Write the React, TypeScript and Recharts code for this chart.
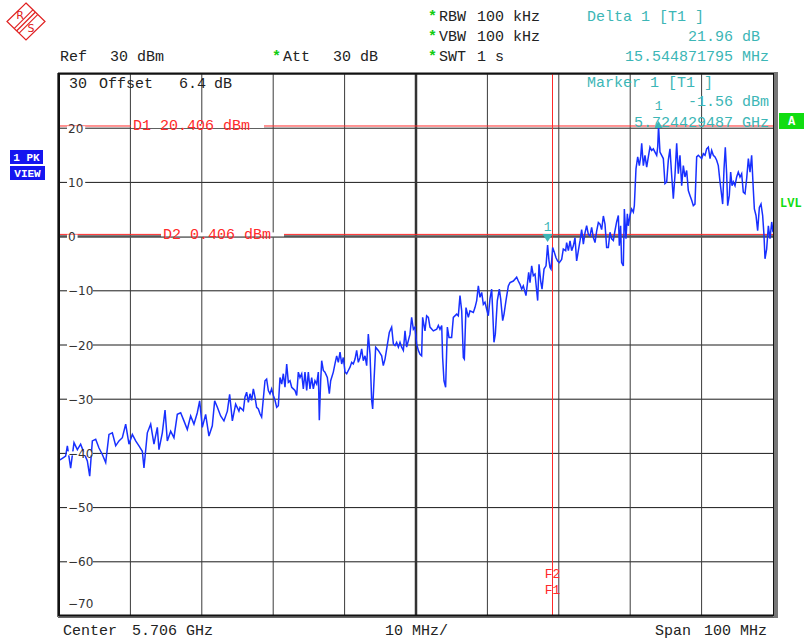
import {
  LineChart,
  Line,
  XAxis,
  YAxis,
  CartesianGrid,
  ReferenceLine,
  ReferenceDot,
} from "recharts";

// sweep trace: [offset from start MHz, level dBm]
const trace: [number, number][] = [
  [0, -41.3], [0.47, -40.9], [0.93, -40.5], [1.17, -38.6], [1.63, -42.7], [2.1, -38.0], [2.57, -39.3], [3.03, -38.3],
  [3.5, -39.9], [3.97, -41.4], [4.3, -44.2], [4.67, -37.7], [5.14, -37.4], [5.6, -39.0], [6.07, -40.2], [6.54, -41.7],
  [7.0, -36.5], [7.47, -36.2], [7.94, -38.6], [8.4, -37.7], [8.87, -37.1], [9.34, -34.6], [9.8, -38.3], [10.27, -36.5],
  [10.74, -37.7], [11.2, -38.6], [11.67, -39.6], [11.9, -42.7], [12.37, -36.2], [12.84, -34.6], [13.3, -38.3],
  [13.77, -35.2], [14.0, -39.3], [14.47, -36.2], [14.85, -32.0], [15.17, -37.7], [15.64, -35.9], [16.1, -37.1],
  [16.57, -32.8], [17.04, -32.5], [17.5, -34.0], [17.97, -35.6], [18.44, -33.1], [18.9, -34.6], [19.37, -32.5],
  [19.7, -30.3], [20.07, -35.2], [20.54, -32.8], [21.0, -36.8], [21.47, -34.9], [21.8, -30.3], [22.18, -31.5],
  [22.64, -33.1], [23.1, -34.0], [23.58, -32.2], [23.9, -29.1], [24.28, -34.0], [24.74, -30.9], [25.2, -32.2],
  [25.35, -31.5], [25.82, -32.1], [26.05, -29.6], [26.28, -28.7], [26.52, -30.6], [26.75, -29.0], [26.98, -30.2],
  [27.22, -28.1], [27.45, -29.6], [27.68, -31.5], [27.92, -31.8], [28.15, -32.7], [28.38, -33.3], [28.85, -26.6],
  [29.08, -26.3], [29.32, -28.4], [29.55, -29.0], [29.78, -28.1], [30.02, -29.3], [30.25, -30.2], [30.49, -31.5],
  [30.72, -31.2], [30.95, -26.0], [31.19, -27.2], [31.42, -25.3], [31.65, -27.8], [31.89, -23.5], [32.12, -26.9],
  [32.35, -26.6], [32.59, -27.8], [32.82, -28.1], [33.05, -28.4], [33.29, -29.3], [33.52, -25.0], [33.75, -26.0],
  [33.99, -25.3], [34.22, -28.1], [34.45, -25.0], [34.69, -28.4], [34.92, -25.0], [35.15, -28.1], [35.39, -26.0],
  [35.62, -28.1], [35.85, -26.6], [36.09, -27.2], [36.32, -25.0], [36.46, -33.9], [36.65, -26.6], [36.79, -22.9],
  [37.02, -24.7], [37.25, -25.0], [37.58, -26.0], [37.86, -29.0], [38.05, -26.6], [38.42, -25.0], [38.65, -23.5],
  [38.89, -22.0], [39.12, -23.2], [39.36, -21.3], [39.59, -23.5], [39.82, -22.3], [40.06, -25.0], [40.29, -25.3],
  [40.52, -24.7], [40.76, -24.1], [40.99, -23.2], [41.22, -23.5], [41.46, -22.6], [41.69, -21.0], [41.92, -23.2],
  [42.16, -22.3], [42.39, -20.7], [42.62, -22.9], [42.86, -22.0], [43.09, -23.8], [43.32, -18.0], [43.56, -21.7],
  [43.79, -30.2], [43.93, -31.8], [44.12, -26.6], [44.35, -20.4], [44.72, -21.0], [45.19, -22.0], [45.42, -23.8],
  [45.66, -22.6], [45.89, -20.7], [46.26, -17.7], [46.59, -16.7], [46.83, -19.8], [47.06, -20.1], [47.29, -19.5],
  [47.53, -20.4], [47.76, -19.5], [47.99, -20.4], [48.23, -21.0], [48.46, -17.4], [48.69, -20.4], [49.16, -18.0],
  [49.39, -14.9], [49.63, -17.1], [49.86, -16.7], [50.09, -19.8], [50.33, -21.0], [50.56, -21.7], [50.79, -22.0],
  [50.93, -14.9], [51.26, -17.4], [51.49, -14.6], [51.73, -14.9], [51.96, -16.7], [52.43, -17.4], [52.9, -17.1],
  [53.13, -16.4], [53.36, -17.1], [53.6, -16.4], [53.73, -22.3], [53.92, -26.6], [54.15, -27.8], [54.39, -16.7],
  [54.62, -18.6], [54.99, -18.6], [55.23, -14.9], [55.7, -14.3], [55.93, -14.6], [56.16, -10.9], [56.4, -13.7],
  [56.63, -22.3], [56.77, -22.6], [57.0, -13.1], [57.33, -14.9], [57.56, -13.7], [58.03, -14.0], [58.26, -13.1],
  [58.5, -11.8], [58.73, -9.1], [58.96, -11.2], [59.2, -10.3], [59.43, -12.5], [59.66, -12.1], [59.9, -13.4],
  [60.13, -14.6], [60.36, -11.5], [60.6, -9.7], [60.74, -13.7], [60.92, -19.5], [61.11, -18.0], [61.39, -11.8],
  [61.67, -9.7], [61.86, -11.5], [62.14, -15.5], [62.33, -14.3], [62.6, -11.8], [62.93, -9.1], [63.17, -8.5],
  [63.63, -8.2], [64.1, -7.5], [64.33, -8.2], [64.57, -8.8], [64.8, -9.7], [65.03, -9.1], [65.4, -10.9],
  [65.59, -8.8], [65.78, -6.6], [65.97, -8.5], [66.2, -5.4], [66.43, -7.2], [66.67, -6.9], [66.9, -10.0],
  [67.04, -11.8], [67.23, -5.1], [67.46, -8.2], [67.65, -9.7], [67.93, -6.0], [68.21, -5.4], [68.43, -1.56],
  [68.63, -4.5], [68.77, -5.7], [68.91, -6.0], [69.14, -2.0], [69.37, -2.9], [69.61, -3.9], [69.84, -4.5],
  [70.07, -4.8], [70.4, -4.2], [70.63, -2.3], [70.96, -2.6], [71.1, -1.1], [71.34, -2.6], [71.57, -0.8],
  [71.8, -2.6], [72.04, -1.7], [72.27, -0.2], [72.5, -4.5], [72.74, -2.6], [72.97, -0.8], [73.2, 1.3],
  [73.44, -1.4], [73.67, 0.7], [73.9, 2.0], [74.14, 0.4], [74.37, 0.1], [74.6, 1.7], [74.84, -0.2],
  [75.07, -1.1], [75.3, 1.0], [75.54, 2.6], [75.77, 2.3], [76.0, 1.3], [76.24, 3.8], [76.47, 2.3],
  [76.7, -2.0], [76.94, -2.0], [77.17, 0.8], [77.4, -0.4], [77.64, -0.7], [77.87, 1.1], [78.1, 2.7],
  [78.34, 3.9], [78.48, -1.7], [78.66, 2.0], [78.8, -4.8], [79.04, -5.4], [79.18, 5.1], [79.41, -0.4],
  [79.6, 4.2], [79.74, 2.0], [79.97, 3.9], [80.2, 5.1], [80.44, 4.5], [80.58, 5.7], [80.81, 12.5],
  [81.05, 14.7], [81.28, 13.1], [81.47, 14.7], [81.61, 17.2], [81.84, 13.1], [82.07, 15.0], [82.31, 12.8],
  [82.54, 14.7], [82.77, 16.5], [83.01, 15.9], [83.24, 16.2], [83.47, 15.6], [83.71, 15.0], [83.85, 16.5],
  [83.97, 20.4], [84.17, 15.6], [84.41, 15.0], [84.64, 14.4], [84.87, 9.8], [85.11, 10.1], [85.34, 14.1],
  [85.57, 16.2], [85.81, 11.3], [86.04, 7.0], [86.27, 11.3], [86.51, 17.2], [86.74, 11.6], [86.97, 15.0],
  [87.21, 9.4], [87.44, 13.1], [87.67, 11.0], [87.91, 12.2], [88.14, 8.5], [88.37, 7.6], [88.61, 6.7],
  [88.84, 5.7], [89.07, 6.0], [89.31, 14.7], [89.54, 15.0], [89.78, 14.7], [90.01, 14.4], [90.24, 15.3],
  [90.48, 15.0], [90.71, 16.2], [90.94, 16.5], [91.18, 14.4], [91.41, 15.9], [91.64, 15.0], [91.88, 14.7],
  [92.11, 14.1], [92.34, 13.1], [92.58, 10.1], [92.81, 7.6], [92.95, 6.0], [93.14, 12.5], [93.32, 16.5],
  [93.51, 11.6], [93.65, 5.7], [93.88, 7.6], [94.07, 11.9], [94.26, 9.4], [94.44, 10.1], [94.68, 9.4],
  [94.91, 11.0], [95.14, 11.9], [95.38, 11.0], [95.61, 11.6], [95.84, 8.2], [96.08, 7.9], [96.31, 10.7],
  [96.55, 14.4], [96.78, 11.9], [97.01, 15.0], [97.25, 8.5], [97.39, 5.1], [97.62, 3.9], [97.85, 1.1],
  [98.09, 5.4], [98.32, 6.0], [98.55, 3.9], [98.74, 0.2], [98.88, -4.1], [99.11, -2.3], [99.35, 2.0],
  [99.58, -0.4], [99.82, 2.7], [100, 0.8],
];

const freqTicks = [0, 10, 20, 30, 40, 50, 60, 70, 80, 90, 100];
const levelTicks = [30, 20, 10, 0, -10, -20, -30, -40, -50, -60, -70];

// display lines and markers
const d1Level = 20.406;
const d2Level = 0.406;
const f1f2 = 69.12;
const marker1 = { f: 68.43, level: -1.56 };
const delta1 = { f: 83.97, level: 20.4 };

const rows = trace.map(([f, level]) => ({ f, level }));

const MONO = "'Liberation Mono', 'DejaVu Sans Mono', monospace";
const TEAL = "#3cb6b6";
const RED = "#ff2a2a";
const GREEN = "#11dd11";
const INK = "#222";
const GRID = "#1a1a1a";

const LevelTick = (props: any) => {
  const { y, payload } = props;
  const v = payload.value;
  if (v === 30) return null;
  const label = v < 0 ? `\u2212${-v}` : `${v}`;
  const ty = v === -70 ? y - 13 : y;
  return (
    <g>
      {v !== -70 && (
        <rect x={67} y={y - 2} width={label.length * 7.6 + 3} height={4} fill="#fff" />
      )}
      <text x={68} y={ty + 4.5} fontSize={12} fill="#333" fontFamily="'DejaVu Sans', sans-serif">
        {label}
      </text>
    </g>
  );
};

const DisplayLineLabel = ({ viewBox, text, from, to }: any) => {
  const { x, y } = viewBox;
  return (
    <g>
      <rect x={x + from - 2} y={y - 2} width={to - from + 4} height={4} fill="#fff" />
      <text x={x + from} y={y + 4.5} fontSize={15} fill={RED} fontFamily={MONO}>
        {text}
      </text>
    </g>
  );
};

const FreqLineLabel = ({ viewBox }: any) => {
  const { x } = viewBox;
  return (
    <g fontFamily={MONO} fontSize={13} fill={RED} textAnchor="middle">
      <text x={x} y={578}>F2</text>
      <text x={x} y={594}>F1</text>
    </g>
  );
};

const MarkerDown = ({ cx, cy }: any) => (
  <g>
    <polygon points={`${cx - 5},${cy - 11} ${cx + 5},${cy - 11} ${cx},${cy - 3}`} fill={TEAL} />
    <text x={cx} y={cy - 14} fontSize={13} fill={TEAL} fontFamily={MONO} textAnchor="middle">1</text>
  </g>
);

const MarkerUp = ({ cx, cy }: any) => (
  <g>
    <polygon points={`${cx - 4},${cy + 2} ${cx + 4},${cy + 2} ${cx},${cy - 5}`} fill={TEAL} />
    <text x={cx} y={cy - 16} fontSize={13} fill={TEAL} fontFamily={MONO} textAnchor="middle">1</text>
  </g>
);

function Logo() {
  const lines = [-2.4, 0, 2.4];
  return (
    <g stroke="#e02020" fill="none" strokeWidth={1.2}>
      <polygon points="26,3 45,21.5 26,40 7,21.5" />
      {lines.map((d) => (
        <line key={d} x1={16.75 + d} y1={30.75 + d} x2={35.25 + d} y2={12.25 + d} />
      ))}
      <text x={20} y={19} stroke="none" fill="#e02020" fontSize={11} fontFamily="'DejaVu Sans', sans-serif" textAnchor="middle">R</text>
      <text x={31} y={32} stroke="none" fill="#e02020" fontSize={11} fontFamily="'DejaVu Sans', sans-serif" textAnchor="middle">S</text>
    </g>
  );
}

function Overlay() {
  const t = { fontFamily: MONO, fontSize: 15 };
  return (
    <svg
      width={804}
      height={641}
      style={{ position: "absolute", left: 0, top: 0, pointerEvents: "none" }}
    >
      <Logo />
      {/* settings block */}
      <g {...t} fill={INK}>
        <text x={60} y={61}>Ref</text>
        <text x={110} y={61}>30 dBm</text>
        <text x={283} y={61}>Att</text>
        <text x={333} y={61}>30 dB</text>
        <text x={439} y={21}>RBW</text>
        <text x={477} y={21}>100 kHz</text>
        <text x={439} y={41}>VBW</text>
        <text x={477} y={41}>100 kHz</text>
        <text x={439} y={61}>SWT</text>
        <text x={477} y={61}>1 s</text>
        <text x={69} y={88}>30</text>
        <text x={99} y={88}>Offset</text>
        <text x={179} y={88}>6.4</text>
        <text x={214} y={88}>dB</text>
        <text x={63} y={635}>Center</text>
        <text x={132} y={635}>5.706 GHz</text>
        <text x={385} y={635}>10 MHz/</text>
        <text x={655} y={635}>Span</text>
        <text x={704} y={635}>100 MHz</text>
      </g>
      <g {...t} fill="#12cc12" fontWeight="bold">
        <text x={272} y={61}>*</text>
        <text x={428} y={21}>*</text>
        <text x={428} y={41}>*</text>
        <text x={428} y={61}>*</text>
      </g>
      {/* marker readout */}
      <g {...t} fill={TEAL}>
        <text x={587} y={21}>Delta 1 [T1 ]</text>
        <text x={760} y={41} textAnchor="end">21.96 dB</text>
        <text x={769} y={61} textAnchor="end">15.544871795 MHz</text>
        <text x={587} y={87}>Marker 1 [T1 ]</text>
        <text x={769} y={106} textAnchor="end">-1.56 dBm</text>
        <text x={769} y={127} textAnchor="end">5.724429487 GHz</text>
      </g>
      {/* frame */}
      <rect x={59} y={73.5} width={715} height={542} fill="none" stroke="#111" strokeWidth={2} />
      <line x1={57.5} y1={73} x2={57.5} y2={617} stroke="#666" strokeWidth={1} />
      <line x1={58} y1={617.5} x2={776} y2={617.5} stroke="#666" strokeWidth={1} />
      <rect x={774} y={72} width={4} height={546} fill="#777" />
      {/* side badges */}
      <rect x={10} y={150} width={33} height={14} fill="#1515f0" />
      <text x={26.5} y={161} fontSize={11} fontFamily={MONO} fontWeight="bold" fill="#fff" textAnchor="middle">1 PK</text>
      <rect x={10} y={166} width={35} height={14} fill="#1515f0" />
      <text x={27.5} y={177} fontSize={11} fontFamily={MONO} fontWeight="bold" fill="#fff" textAnchor="middle">VIEW</text>
      <rect x={779} y={113} width={25} height={16} fill={GREEN} />
      <text x={791.5} y={125} fontSize={12} fontFamily={MONO} fontWeight="bold" fill="#fff" textAnchor="middle">A</text>
      <text x={780} y={207} fontSize={12} fontFamily={MONO} fontWeight="bold" fill={GREEN}>LVL</text>
    </svg>
  );
}

export default function App() {
  return (
    <div style={{ position: "absolute", left: 0, top: 0, width: 804, height: 641, background: "#fff" }}>
      <LineChart
        width={804}
        height={641}
        data={rows}
        margin={{ top: 74, right: 31, bottom: 24, left: 58 }}
      >
        <CartesianGrid stroke={GRID} strokeWidth={1} vertical={false} />
        <XAxis
          type="number"
          dataKey="f"
          domain={[0, 100]}
          ticks={freqTicks}
          height={1}
          tick={false}
          axisLine={false}
          tickLine={false}
        />
        <YAxis
          type="number"
          domain={[-70, 30]}
          ticks={levelTicks}
          interval={0}
          width={1}
          axisLine={false}
          tickLine={false}
          tick={<LevelTick />}
        />
        {freqTicks.slice(1, -1).map((f) => (
          <ReferenceLine
            key={f}
            x={f}
            stroke={f === 50 ? "#333" : "#3a3a3a"}
            strokeWidth={f === 50 ? 2.5 : 1}
          />
        ))}
        <ReferenceLine y={0} stroke="#555" strokeWidth={2.5} />
        <ReferenceLine
          y={d1Level}
          stroke={RED}
          strokeWidth={1}
          label={<DisplayLineLabel text="D1 20.406 dBm" from={74} to={203} />}
        />
        <ReferenceLine
          y={d2Level}
          stroke={RED}
          strokeWidth={1}
          label={<DisplayLineLabel text="D2 0.406 dBm" from={104} to={223} />}
        />
        <ReferenceLine
          x={f1f2}
          stroke={RED}
          strokeWidth={1}
          shapeRendering="crispEdges"
          label={<FreqLineLabel />}
        />
        <Line
          type="linear"
          dataKey="level"
          stroke="#1830ff"
          strokeWidth={1.5}
          dot={false}
          isAnimationActive={false}
        />
        <ReferenceDot x={marker1.f} y={marker1.level} r={0} shape={<MarkerDown />} />
        <ReferenceDot x={delta1.f} y={delta1.level} r={0} shape={<MarkerUp />} />
      </LineChart>
      <Overlay />
    </div>
  );
}
